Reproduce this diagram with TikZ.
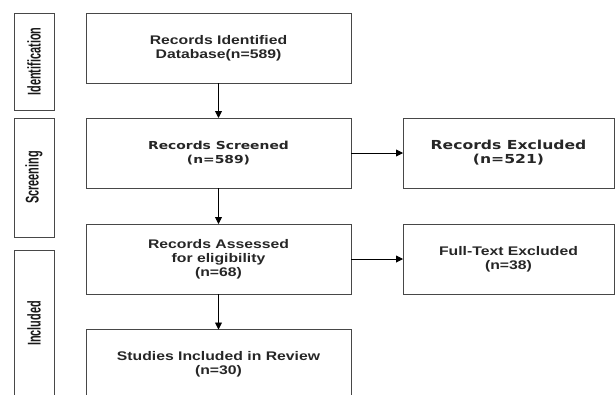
\documentclass[tikz,border=0pt]{standalone}
\usepackage{fontspec}
\setmainfont{Liberation Sans}
\newfontfamily\dvs{DejaVu Sans}
\usepackage{graphicx}
\usetikzlibrary{arrows.meta}
\newcommand\hs[1]{\scalebox{1.26}[1]{#1}}
\newcommand\vs[1]{\scalebox{0.86}[1.45]{#1}}
\begin{document}
\begin{tikzpicture}[x=1pt,y=-1pt,
  boxbase/.style={draw=black!72, line width=1pt, inner sep=0pt, outer sep=0pt, align=center, text=black!85},
  mainbox/.style={boxbase, minimum width=265pt, minimum height=70pt, font=\bfseries\fontsize{12.5}{14}\selectfont},
  sidebox/.style={boxbase, minimum width=211pt, minimum height=70pt, font=\bfseries\fontsize{12.5}{14}\selectfont},
  stagebox/.style={boxbase, minimum width=40pt},
  stagetext/.style={rotate=90, inner sep=0pt, text=black!90, font=\bfseries\fontsize{12.7}{14}\selectfont},
  arr/.style={draw=black, line width=0.9pt, -{Triangle[length=7pt,width=7pt]}}
]
\useasboundingbox (0,0) rectangle (615,394);
\clip (0,0) rectangle (615,394);
% stage boxes
\node[stagebox, minimum height=97pt] (sid) at (34,61.5) {};
\node[stagetext] (sidt) at (sid.center) {\vs{Identification}};
\node[stagebox, minimum height=119pt] (ssc) at (34,177.5) {};
\node[stagetext] (ssct) at (ssc.center) {\vs{Screening}};
\node[stagebox, minimum height=150pt] (sin) at (34,325) {};
\node[stagetext] (sint) at (34,323.5) {\vs{Included}};
% main boxes
\node[mainbox] (b1) at (218.5,48) {\hs{Records Identified}\\\hs{Database(n=589)}};
\node[mainbox, font=\dvs\bfseries\fontsize{11}{14}\selectfont] (b2) at (218.5,153) {\hs{Records Screened}\\\hs{(n=589)}};
\node[mainbox] (b3) at (218.5,259) {\hs{Records Assessed}\\\hs{for eligibility}\\\hs{(n=68)}};
\node[mainbox] (b4) at (218.5,364.5) {\hs{Studies Included in Review}\\\hs{(n=30)}};
% side boxes
\node[sidebox, font=\dvs\bfseries\fontsize{12.4}{14}\selectfont] (r1) at (508.5,153) {\hs{Records Excluded}\\\hs{(n=521)}};
\node[sidebox] (r2) at (508.5,259) {\hs{Full-Text Excluded}\\\hs{(n=38)}};
% connectors
\draw[arr] (b1) -- (b2);
\draw[arr] (b2) -- (b3);
\draw[arr] (b3) -- (b4);
\draw[arr] (b2) -- (r1);
\draw[arr] (b3) -- (r2);
\end{tikzpicture}
\end{document}
